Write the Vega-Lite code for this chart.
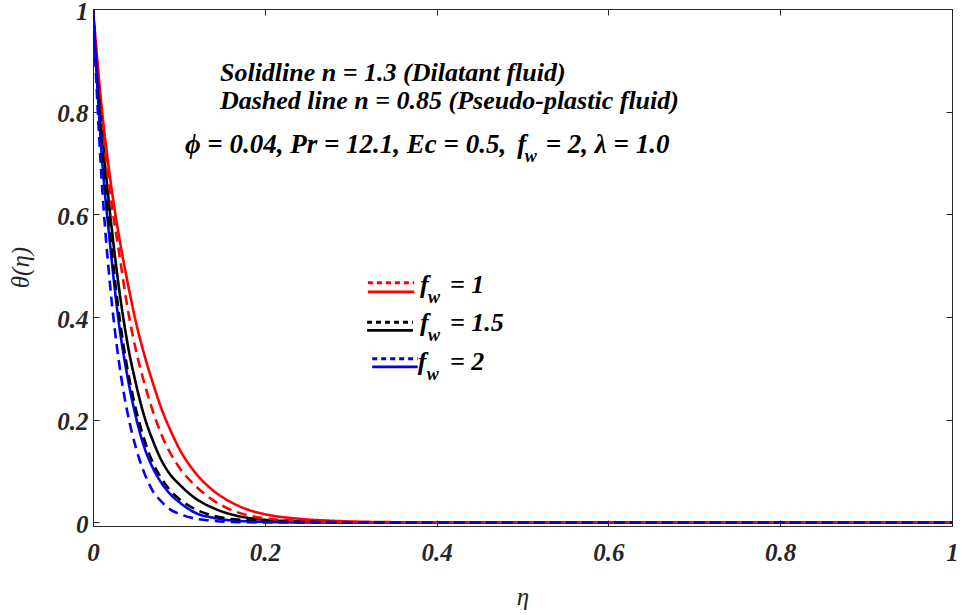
{
  "$schema": "https://vega.github.io/schema/vega-lite/v6.json",
  "width": 859,
  "height": 517,
  "autosize": "none",
  "padding": {"left": 93, "top": 9, "right": 10, "bottom": 89},
  "background": "white",
  "config": {
    "view": {"stroke": "#262626", "strokeWidth": 1},
    "font": "Liberation Serif",
    "axis": {
      "grid": false,
      "domainColor": "#262626",
      "tickColor": "#262626",
      "labelFont": "Liberation Serif",
      "labelFontStyle": "italic",
      "labelFontWeight": "bold",
      "labelFontSize": 25,
      "labelColor": "#262626",
      "titleFont": "Liberation Serif",
      "titleFontStyle": "italic",
      "titleFontWeight": "normal",
      "titleFontSize": 25,
      "titleColor": "#262626",
      "labelFlush": false,
      "labelOverlap": false
    }
  },
  "datasets": {
    "curves": [
      {"eta": 0, "theta": 1, "fw": "1", "n": "1.3"},
      {"eta": 0.005, "theta": 0.9, "fw": "1", "n": "1.3"},
      {"eta": 0.01, "theta": 0.81, "fw": "1", "n": "1.3"},
      {"eta": 0.02, "theta": 0.67, "fw": "1", "n": "1.3"},
      {"eta": 0.03, "theta": 0.56, "fw": "1", "n": "1.3"},
      {"eta": 0.04, "theta": 0.47, "fw": "1", "n": "1.3"},
      {"eta": 0.05, "theta": 0.39, "fw": "1", "n": "1.3"},
      {"eta": 0.06, "theta": 0.325, "fw": "1", "n": "1.3"},
      {"eta": 0.07, "theta": 0.27, "fw": "1", "n": "1.3"},
      {"eta": 0.08, "theta": 0.22, "fw": "1", "n": "1.3"},
      {"eta": 0.09, "theta": 0.18, "fw": "1", "n": "1.3"},
      {"eta": 0.1, "theta": 0.145, "fw": "1", "n": "1.3"},
      {"eta": 0.12, "theta": 0.095, "fw": "1", "n": "1.3"},
      {"eta": 0.14, "theta": 0.062, "fw": "1", "n": "1.3"},
      {"eta": 0.16, "theta": 0.04, "fw": "1", "n": "1.3"},
      {"eta": 0.18, "theta": 0.025, "fw": "1", "n": "1.3"},
      {"eta": 0.2, "theta": 0.016, "fw": "1", "n": "1.3"},
      {"eta": 0.24, "theta": 0.007, "fw": "1", "n": "1.3"},
      {"eta": 0.28, "theta": 0.003, "fw": "1", "n": "1.3"},
      {"eta": 0.32, "theta": 0.001, "fw": "1", "n": "1.3"},
      {"eta": 0.4, "theta": 0, "fw": "1", "n": "1.3"},
      {"eta": 1, "theta": 0, "fw": "1", "n": "1.3"},

      {"eta": 0, "theta": 1, "fw": "1.5", "n": "1.3"},
      {"eta": 0.005, "theta": 0.87, "fw": "1.5", "n": "1.3"},
      {"eta": 0.01, "theta": 0.77, "fw": "1.5", "n": "1.3"},
      {"eta": 0.02, "theta": 0.6, "fw": "1.5", "n": "1.3"},
      {"eta": 0.03, "theta": 0.46, "fw": "1.5", "n": "1.3"},
      {"eta": 0.04, "theta": 0.35, "fw": "1.5", "n": "1.3"},
      {"eta": 0.05, "theta": 0.27, "fw": "1.5", "n": "1.3"},
      {"eta": 0.06, "theta": 0.205, "fw": "1.5", "n": "1.3"},
      {"eta": 0.07, "theta": 0.158, "fw": "1.5", "n": "1.3"},
      {"eta": 0.08, "theta": 0.12, "fw": "1.5", "n": "1.3"},
      {"eta": 0.09, "theta": 0.093, "fw": "1.5", "n": "1.3"},
      {"eta": 0.1, "theta": 0.075, "fw": "1.5", "n": "1.3"},
      {"eta": 0.12, "theta": 0.046, "fw": "1.5", "n": "1.3"},
      {"eta": 0.14, "theta": 0.028, "fw": "1.5", "n": "1.3"},
      {"eta": 0.16, "theta": 0.016, "fw": "1.5", "n": "1.3"},
      {"eta": 0.18, "theta": 0.009, "fw": "1.5", "n": "1.3"},
      {"eta": 0.2, "theta": 0.005, "fw": "1.5", "n": "1.3"},
      {"eta": 0.24, "theta": 0.002, "fw": "1.5", "n": "1.3"},
      {"eta": 0.28, "theta": 0.0005, "fw": "1.5", "n": "1.3"},
      {"eta": 0.32, "theta": 0, "fw": "1.5", "n": "1.3"},
      {"eta": 1, "theta": 0, "fw": "1.5", "n": "1.3"},

      {"eta": 0, "theta": 1, "fw": "2", "n": "1.3"},
      {"eta": 0.005, "theta": 0.85, "fw": "2", "n": "1.3"},
      {"eta": 0.01, "theta": 0.72, "fw": "2", "n": "1.3"},
      {"eta": 0.02, "theta": 0.54, "fw": "2", "n": "1.3"},
      {"eta": 0.03, "theta": 0.39, "fw": "2", "n": "1.3"},
      {"eta": 0.04, "theta": 0.285, "fw": "2", "n": "1.3"},
      {"eta": 0.05, "theta": 0.205, "fw": "2", "n": "1.3"},
      {"eta": 0.06, "theta": 0.145, "fw": "2", "n": "1.3"},
      {"eta": 0.07, "theta": 0.105, "fw": "2", "n": "1.3"},
      {"eta": 0.08, "theta": 0.076, "fw": "2", "n": "1.3"},
      {"eta": 0.09, "theta": 0.055, "fw": "2", "n": "1.3"},
      {"eta": 0.1, "theta": 0.04, "fw": "2", "n": "1.3"},
      {"eta": 0.12, "theta": 0.018, "fw": "2", "n": "1.3"},
      {"eta": 0.14, "theta": 0.009, "fw": "2", "n": "1.3"},
      {"eta": 0.16, "theta": 0.004, "fw": "2", "n": "1.3"},
      {"eta": 0.18, "theta": 0.002, "fw": "2", "n": "1.3"},
      {"eta": 0.2, "theta": 0.001, "fw": "2", "n": "1.3"},
      {"eta": 0.25, "theta": 0, "fw": "2", "n": "1.3"},
      {"eta": 1, "theta": 0, "fw": "2", "n": "1.3"},

      {"eta": 0, "theta": 1, "fw": "1", "n": "0.85"},
      {"eta": 0.005, "theta": 0.89, "fw": "1", "n": "0.85"},
      {"eta": 0.01, "theta": 0.79, "fw": "1", "n": "0.85"},
      {"eta": 0.02, "theta": 0.64, "fw": "1", "n": "0.85"},
      {"eta": 0.03, "theta": 0.53, "fw": "1", "n": "0.85"},
      {"eta": 0.04, "theta": 0.42, "fw": "1", "n": "0.85"},
      {"eta": 0.05, "theta": 0.335, "fw": "1", "n": "0.85"},
      {"eta": 0.06, "theta": 0.27, "fw": "1", "n": "0.85"},
      {"eta": 0.07, "theta": 0.215, "fw": "1", "n": "0.85"},
      {"eta": 0.08, "theta": 0.17, "fw": "1", "n": "0.85"},
      {"eta": 0.09, "theta": 0.135, "fw": "1", "n": "0.85"},
      {"eta": 0.1, "theta": 0.108, "fw": "1", "n": "0.85"},
      {"eta": 0.12, "theta": 0.07, "fw": "1", "n": "0.85"},
      {"eta": 0.14, "theta": 0.043, "fw": "1", "n": "0.85"},
      {"eta": 0.16, "theta": 0.025, "fw": "1", "n": "0.85"},
      {"eta": 0.18, "theta": 0.014, "fw": "1", "n": "0.85"},
      {"eta": 0.2, "theta": 0.008, "fw": "1", "n": "0.85"},
      {"eta": 0.24, "theta": 0.003, "fw": "1", "n": "0.85"},
      {"eta": 0.28, "theta": 0.001, "fw": "1", "n": "0.85"},
      {"eta": 0.32, "theta": 0, "fw": "1", "n": "0.85"},
      {"eta": 1, "theta": 0, "fw": "1", "n": "0.85"},

      {"eta": 0, "theta": 1, "fw": "1.5", "n": "0.85"},
      {"eta": 0.005, "theta": 0.86, "fw": "1.5", "n": "0.85"},
      {"eta": 0.01, "theta": 0.74, "fw": "1.5", "n": "0.85"},
      {"eta": 0.02, "theta": 0.56, "fw": "1.5", "n": "0.85"},
      {"eta": 0.03, "theta": 0.41, "fw": "1.5", "n": "0.85"},
      {"eta": 0.04, "theta": 0.3, "fw": "1.5", "n": "0.85"},
      {"eta": 0.05, "theta": 0.22, "fw": "1.5", "n": "0.85"},
      {"eta": 0.06, "theta": 0.16, "fw": "1.5", "n": "0.85"},
      {"eta": 0.07, "theta": 0.115, "fw": "1.5", "n": "0.85"},
      {"eta": 0.08, "theta": 0.085, "fw": "1.5", "n": "0.85"},
      {"eta": 0.09, "theta": 0.062, "fw": "1.5", "n": "0.85"},
      {"eta": 0.1, "theta": 0.046, "fw": "1.5", "n": "0.85"},
      {"eta": 0.12, "theta": 0.025, "fw": "1.5", "n": "0.85"},
      {"eta": 0.14, "theta": 0.013, "fw": "1.5", "n": "0.85"},
      {"eta": 0.16, "theta": 0.007, "fw": "1.5", "n": "0.85"},
      {"eta": 0.18, "theta": 0.004, "fw": "1.5", "n": "0.85"},
      {"eta": 0.2, "theta": 0.002, "fw": "1.5", "n": "0.85"},
      {"eta": 0.25, "theta": 0.0005, "fw": "1.5", "n": "0.85"},
      {"eta": 0.3, "theta": 0, "fw": "1.5", "n": "0.85"},
      {"eta": 1, "theta": 0, "fw": "1.5", "n": "0.85"},

      {"eta": 0, "theta": 1, "fw": "2", "n": "0.85"},
      {"eta": 0.005, "theta": 0.82, "fw": "2", "n": "0.85"},
      {"eta": 0.01, "theta": 0.67, "fw": "2", "n": "0.85"},
      {"eta": 0.02, "theta": 0.46, "fw": "2", "n": "0.85"},
      {"eta": 0.03, "theta": 0.315, "fw": "2", "n": "0.85"},
      {"eta": 0.04, "theta": 0.215, "fw": "2", "n": "0.85"},
      {"eta": 0.05, "theta": 0.145, "fw": "2", "n": "0.85"},
      {"eta": 0.06, "theta": 0.095, "fw": "2", "n": "0.85"},
      {"eta": 0.07, "theta": 0.06, "fw": "2", "n": "0.85"},
      {"eta": 0.08, "theta": 0.04, "fw": "2", "n": "0.85"},
      {"eta": 0.09, "theta": 0.025, "fw": "2", "n": "0.85"},
      {"eta": 0.1, "theta": 0.017, "fw": "2", "n": "0.85"},
      {"eta": 0.12, "theta": 0.007, "fw": "2", "n": "0.85"},
      {"eta": 0.14, "theta": 0.003, "fw": "2", "n": "0.85"},
      {"eta": 0.16, "theta": 0.001, "fw": "2", "n": "0.85"},
      {"eta": 0.2, "theta": 0, "fw": "2", "n": "0.85"},
      {"eta": 1, "theta": 0, "fw": "2", "n": "0.85"}
    ],
    "legendLines": [
      {"x1": 0.32, "x2": 0.374, "yDot": 0.4666, "ySolid": 0.449, "fw": "1"},
      {"x1": 0.319, "x2": 0.3725, "yDot": 0.39, "ySolid": 0.374, "fw": "1.5"},
      {"x1": 0.325, "x2": 0.378, "yDot": 0.3186, "ySolid": 0.303, "fw": "2"}
    ],
    "notes": [
      {"x": 0.1478, "y": 0.876, "text": "Solidline n = 1.3 (Dilatant fluid)"},
      {"x": 0.1478, "y": 0.8214, "text": "Dashed line n = 0.85 (Pseudo-plastic fluid)"},
      {"x": 0.3807, "y": 0.463, "text": "f"},
      {"x": 0.4156, "y": 0.463, "text": "= 1"},
      {"x": 0.3807, "y": 0.389, "text": "f"},
      {"x": 0.4156, "y": 0.389, "text": "= 1.5"},
      {"x": 0.378, "y": 0.313, "text": "f"},
      {"x": 0.4156, "y": 0.313, "text": "= 2"}
    ],
    "params": [
      {"x": 0.107, "y": 0.7358, "text": "ϕ = 0.04, Pr = 12.1, Ec = 0.5,"},
      {"x": 0.494, "y": 0.7358, "text": "f"},
      {"x": 0.527, "y": 0.7358, "text": "= 2, λ = 1.0"}
    ],
    "subs": [
      {"x": 0.5025, "y": 0.711, "text": "w"},
      {"x": 0.39, "y": 0.438, "text": "w"},
      {"x": 0.39, "y": 0.364, "text": "w"},
      {"x": 0.3885, "y": 0.288, "text": "w"}
    ]
  },
  "resolve": {"axis": {"x": "independent", "y": "independent"}, "scale": {"x": "shared", "y": "shared"}},
  "layer": [
    {
      "data": {"name": "curves"},
      "mark": {"type": "line", "strokeWidth": 2.6, "interpolate": "monotone", "clip": true},
      "encoding": {
        "x": {"field": "eta", "type": "quantitative", "scale": {"domain": [0, 1], "nice": false, "zero": false},
          "axis": {"title": "η", "values": [0, 0.2, 0.4, 0.6, 0.8, 1], "format": "~g", "tickSize": -6, "labelPadding": 20, "titleY": 78, "titleBaseline": "alphabetic"}},
        "y": {"field": "theta", "type": "quantitative", "scale": {"domain": [-0.007, 1], "nice": false, "zero": false},
          "axis": {"title": "θ(η)", "values": [0, 0.2, 0.4, 0.6, 0.8, 1], "format": "~g", "tickSize": -6, "labelPadding": 11, "labelOffset": 2, "titleX": -73, "titleY": 258, "titleAngle": 270, "titleBaseline": "middle", "titleAlign": "center"}},
        "color": {"field": "fw", "type": "nominal", "scale": {"domain": ["1", "1.5", "2"], "range": ["#ff0000", "#000000", "#0000ff"]}, "legend": null},
        "strokeDash": {"field": "n", "type": "nominal", "scale": {"domain": ["1.3", "0.85"], "range": [[1, 0], [10, 6]]}, "legend": null}
      }
    },
    {
      "data": {"name": "curves"},
      "mark": {"type": "line", "opacity": 0},
      "encoding": {
        "x": {"field": "eta", "type": "quantitative", "axis": {"orient": "top", "title": null, "labels": false, "values": [0, 0.2, 0.4, 0.6, 0.8, 1], "tickSize": -6}},
        "y": {"field": "theta", "type": "quantitative", "axis": {"orient": "right", "title": null, "labels": false, "values": [0, 0.2, 0.4, 0.6, 0.8, 1], "tickSize": -6}}
      }
    },
    {
      "data": {"name": "legendLines"},
      "mark": {"type": "rule", "strokeWidth": 3, "strokeDash": [5, 4]},
      "encoding": {
        "x": {"field": "x1", "type": "quantitative", "axis": null},
        "x2": {"field": "x2"},
        "y": {"field": "yDot", "type": "quantitative", "axis": null},
        "color": {"field": "fw", "type": "nominal", "legend": null}
      }
    },
    {
      "data": {"name": "legendLines"},
      "mark": {"type": "rule", "strokeWidth": 2.6},
      "encoding": {
        "x": {"field": "x1", "type": "quantitative", "axis": null},
        "x2": {"field": "x2"},
        "y": {"field": "ySolid", "type": "quantitative", "axis": null},
        "color": {"field": "fw", "type": "nominal", "legend": null}
      }
    },
    {
      "data": {"name": "notes"},
      "mark": {"type": "text", "font": "Liberation Serif", "fontStyle": "italic", "fontWeight": "bold", "fontSize": 26, "align": "left", "baseline": "middle", "color": "#000000"},
      "encoding": {
        "x": {"field": "x", "type": "quantitative", "axis": null},
        "y": {"field": "y", "type": "quantitative", "axis": null},
        "text": {"field": "text"}
      }
    },
    {
      "data": {"name": "params"},
      "mark": {"type": "text", "font": "Liberation Serif", "fontStyle": "italic", "fontWeight": "bold", "fontSize": 27, "align": "left", "baseline": "middle", "color": "#000000"},
      "encoding": {
        "x": {"field": "x", "type": "quantitative", "axis": null},
        "y": {"field": "y", "type": "quantitative", "axis": null},
        "text": {"field": "text"}
      }
    },
    {
      "data": {"name": "subs"},
      "mark": {"type": "text", "font": "Liberation Serif", "fontStyle": "italic", "fontWeight": "bold", "fontSize": 18, "align": "left", "baseline": "middle", "color": "#000000"},
      "encoding": {
        "x": {"field": "x", "type": "quantitative", "axis": null},
        "y": {"field": "y", "type": "quantitative", "axis": null},
        "text": {"field": "text"}
      }
    }
  ]
}
